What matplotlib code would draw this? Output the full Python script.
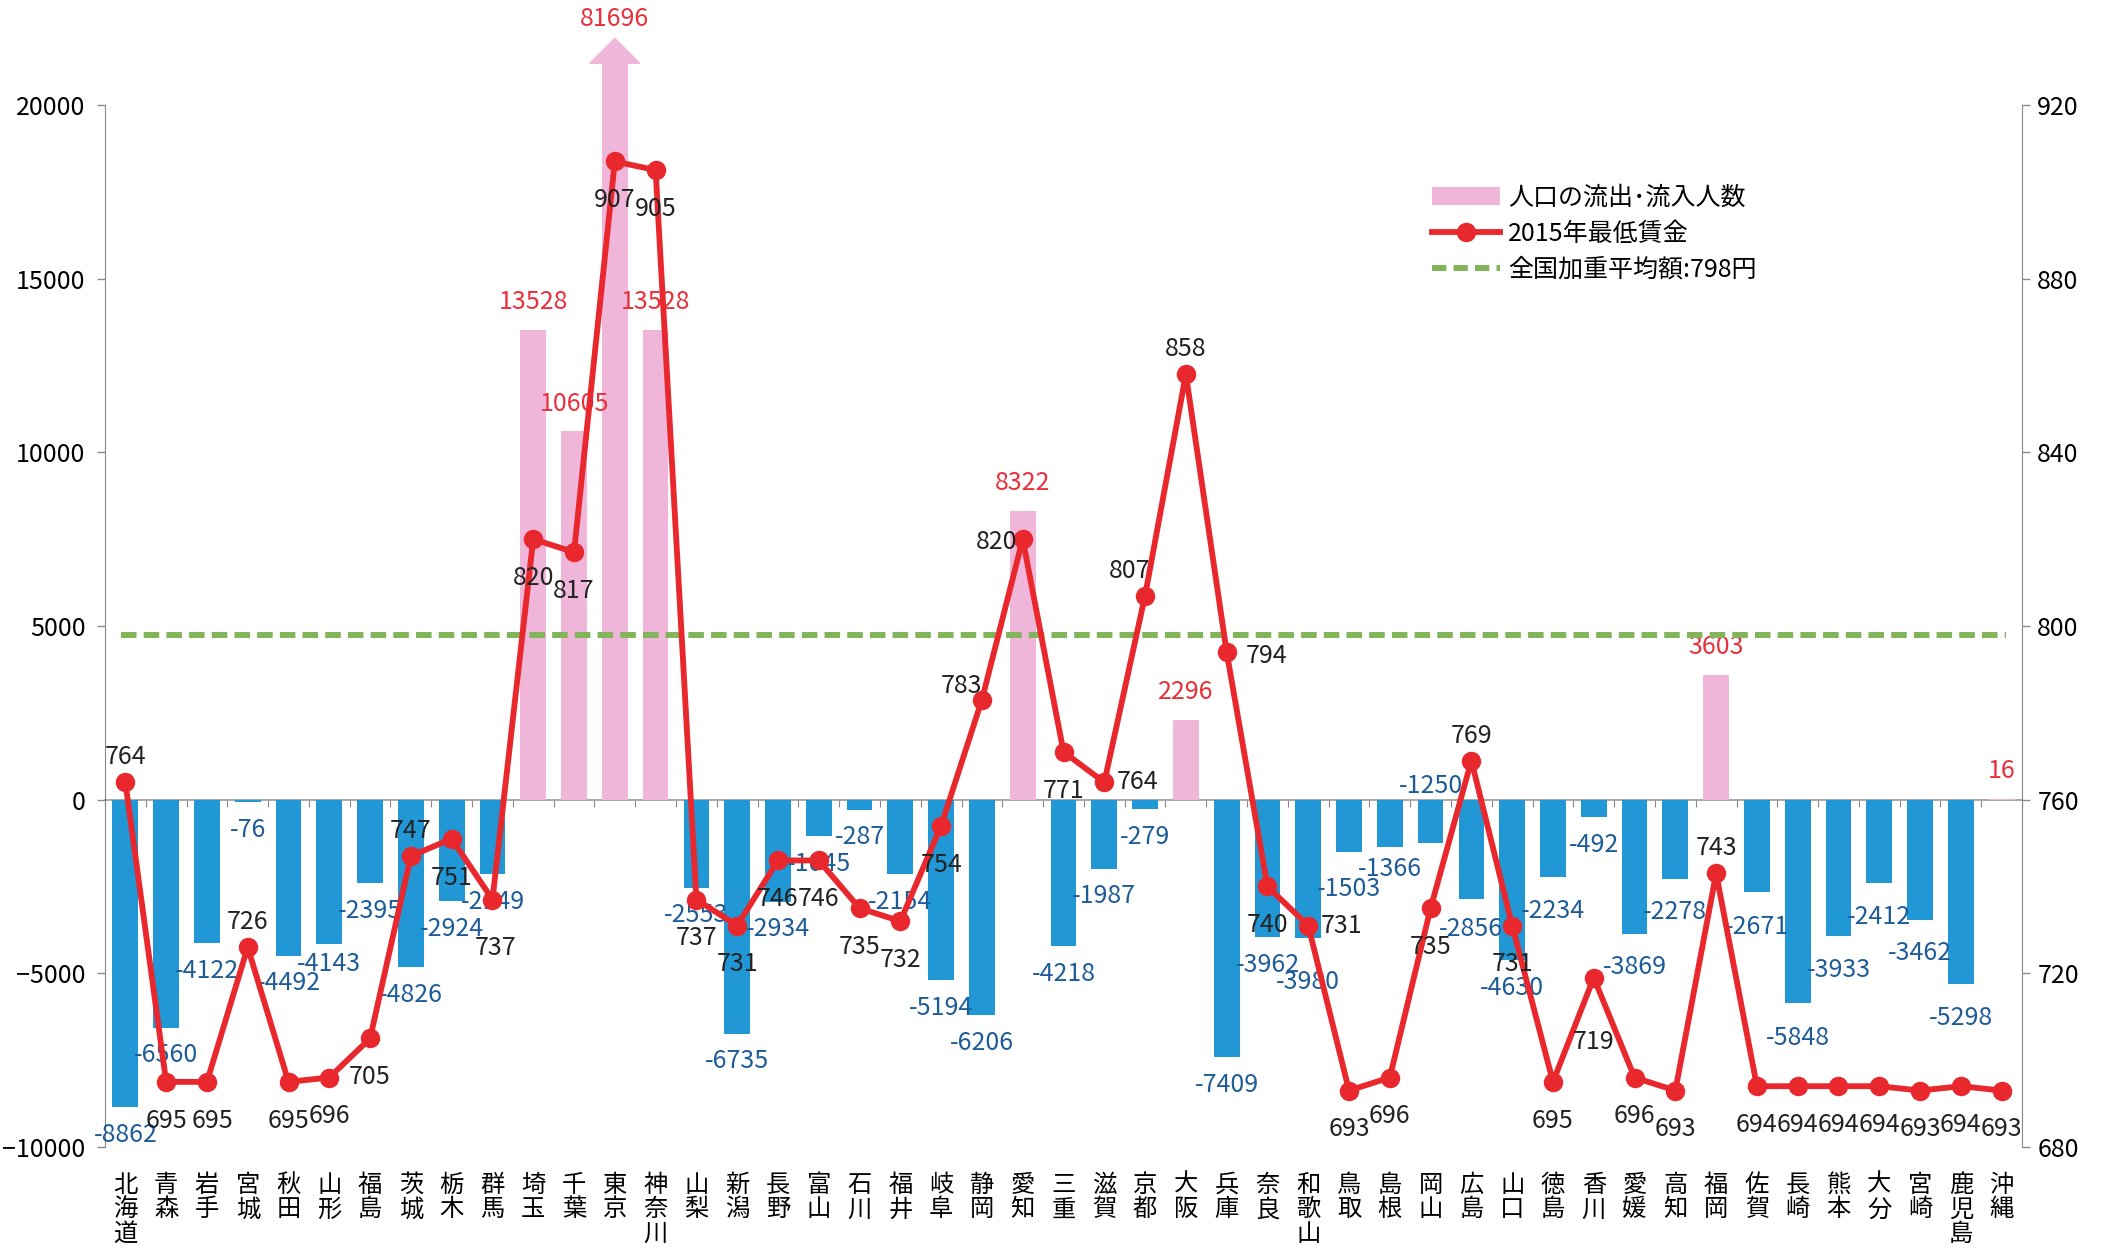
import numpy as np
import matplotlib
matplotlib.use('Agg')
import matplotlib.pyplot as plt
from matplotlib.patches import Patch, Polygon
from matplotlib.lines import Line2D

plt.rcParams['font.family'] = ['Noto Sans CJK JP', 'DejaVu Sans']

# 都道府県
prefs = ['北海道', '青森', '岩手', '宮城', '秋田', '山形', '福島', '茨城', '栃木', '群馬',
         '埼玉', '千葉', '東京', '神奈川', '山梨', '新潟', '長野', '富山', '石川', '福井',
         '岐阜', '静岡', '愛知', '三重', '滋賀', '京都', '大阪', '兵庫', '奈良', '和歌山',
         '鳥取', '島根', '岡山', '広島', '山口', '徳島', '香川', '愛媛', '高知', '福岡',
         '佐賀', '長崎', '熊本', '大分', '宮崎', '鹿児島', '沖縄']

# 人口の流出・流入人数
flows = [-8862, -6560, -4122, -76, -4492, -4143, -2395, -4826, -2924, -2149,
         13528, 10605, 81696, 13528, -2553, -6735, -2934, -1045, -287, -2154,
         -5194, -6206, 8322, -4218, -1987, -279, 2296, -7409, -3962, -3980,
         -1503, -1366, -1250, -2856, -4630, -2234, -492, -3869, -2278, 3603,
         -2671, -5848, -3933, -2412, -3462, -5298, 16]

# 2015年最低賃金
wages = [764, 695, 695, 726, 695, 696, 705, 747, 751, 737,
         820, 817, 907, 905, 737, 731, 746, 746, 735, 732,
         754, 783, 820, 771, 764, 807, 858, 794, 740, 731,
         693, 696, 735, 769, 731, 695, 719, 696, 693, 743,
         694, 694, 694, 694, 693, 694, 693]

avg_wage = 798

# 賃金ラベルの位置 (b:下 a:上 l:左 r:右 ul:左上 bb:もっと下)
wage_pos = ['a', 'b', 'b2', 'a', 'b', 'b', 'b', 'a', 'b', 'bb2',
            'b', 'b', 'b', 'b', 'b', 'b', 'b', 'b', 'b', 'b',
            'b', 'ul', 'l', 'b', 'r', 'ul2', 'a', 'r2', 'b', 'r',
            'b', 'b', 'b', 'a', 'b', 'b', 'bb', 'b', 'b', 'a',
            'b', 'b', 'b', 'b', 'b', 'b', 'b']
wage_off = {'a': (0, 18, 'center'), 'b': (0, -28, 'center'), 'b2': (4, -28, 'center'),
            'bb': (0, -46, 'center'), 'bb2': (2, -35, 'center'),
            'l': (-4, -2, 'right'), 'r': (9, 0, 'left'), 'r2': (14, -3, 'left'),
            'ul': (0, 10, 'right'), 'ul2': (4, 18, 'right')}

# 人数ラベルの縦のずらし (pt), 指定がなければ ±20
flow_dy = {5: -15, 14: -19, 16: -20, 29: -32, 30: -27, 31: -16, 32: 'zero', 33: -22,
           35: -24, 37: -24, 38: -24, 40: -25, 41: -25, 42: -24, 43: -24, 44: -24, 45: -25}

blue = '#2297d5'
pink = '#f0b6d9'
red = '#e9282e'
green = '#82b45a'
blue_txt = '#1e5c98'
red_txt = '#e8303a'

ymin, ymax = -10000, 20000
cap = 21200  # 東京の棒は上で切る
fs = 18

fig = plt.figure(figsize=(21.16, 12.47), dpi=100)
ax = fig.add_subplot(111)
fig.subplots_adjust(left=0.0496, right=0.9556, bottom=0.0802, top=0.9158)

x = np.arange(len(prefs))
vals = np.array(flows)
heights = np.minimum(vals, cap)
colors = [pink if v > 0 else blue for v in vals]
ax.bar(x, heights, width=0.63, color=colors, zorder=2, clip_on=False)

# 東京の矢印
it = int(np.argmax(vals))
ax.add_patch(Polygon([(it - 0.61, cap), (it + 0.61, cap), (it, cap + 720)],
                     closed=True, color=pink, clip_on=False, zorder=2))
ax.annotate(str(vals[it]), (it, cap + 720), xytext=(0, 14), textcoords='offset points',
            ha='center', va='center', color=red_txt, fontsize=fs, annotation_clip=False)

for i, v in enumerate(vals):
    if i == it:
        continue
    dy = flow_dy.get(i, 20 if v > 0 else -20)
    if dy == 'zero':
        ax.annotate(str(v), (i, 0), xytext=(0, 10), textcoords='offset points',
                    ha='center', va='center', color=blue_txt, fontsize=fs, zorder=5)
        continue
    ax.annotate(str(v), (i, v), xytext=(0, dy), textcoords='offset points',
                ha='center', va='center', color=red_txt if v > 0 else blue_txt,
                fontsize=fs, zorder=5)

ax.set_xlim(-0.5, len(prefs) - 0.5)
ax.set_ylim(ymin, ymax)
ax.set_yticks(np.arange(-10000, 20001, 5000))
ax.set_xticks(x)
ax.set_xticklabels(['\n'.join(p) for p in prefs], fontsize=17.5, linespacing=0.92)
ax.tick_params(axis='x', length=0, pad=18)
ax.tick_params(axis='y', labelsize=fs, length=6, pad=8, color='#888888', width=1)
for s in ['top', 'right', 'bottom']:
    ax.spines[s].set_visible(False)
ax.spines['left'].set_color('#888888')

# ゼロの線と区切りの目盛り
secx = ax.secondary_xaxis((0 - ymin) / (ymax - ymin))
secx.set_xticks(np.arange(-0.5, len(prefs), 1))
secx.tick_params(axis='x', direction='out', length=5, color='#888888', labelbottom=False)
secx.spines['bottom'].set_color('#999999')
secx.spines['bottom'].set_linewidth(1.2)

ax2 = ax.twinx()
ax2.hlines(avg_wage, -0.1, len(prefs) - 0.9, colors=green, linewidth=4.3,
           linestyles=(0, (2.6, 1.2)), zorder=3)
ax2.plot(x, wages, color=red, linewidth=4.2, marker='o', markersize=13, zorder=4)
for i, w in enumerate(wages):
    dx, dy, ha = wage_off[wage_pos[i]]
    ax2.annotate(str(w), (i, w), xytext=(dx, dy), textcoords='offset points',
                 ha=ha, va='center', color='#222222', fontsize=fs, zorder=6)
ax2.set_ylim(680, 920)
ax2.set_yticks(np.arange(680, 921, 40))
ax2.tick_params(axis='y', labelsize=fs, length=6, pad=5, color='#888888', width=1)
for s in ['top', 'left', 'bottom']:
    ax2.spines[s].set_visible(False)
ax2.spines['right'].set_color('#888888')

handles = [Patch(facecolor=pink, edgecolor='none'),
           Line2D([], [], color=red, linewidth=4.2, marker='o', markersize=13),
           Line2D([], [], color=green, linewidth=4.3, linestyle=(0, (2.4, 1.2)))]
labels = ['人口の流出･流入人数', '2015年最低賃金', '全国加重平均額:798円']
ax2.legend(handles, labels, loc='upper left', bbox_to_anchor=(0.671, 0.862),
           bbox_transform=fig.transFigure, frameon=False, fontsize=fs,
           handlelength=2.72, handletextpad=0.3, labelspacing=0.4, borderpad=0)

fig.savefig('out.png', dpi=100)
